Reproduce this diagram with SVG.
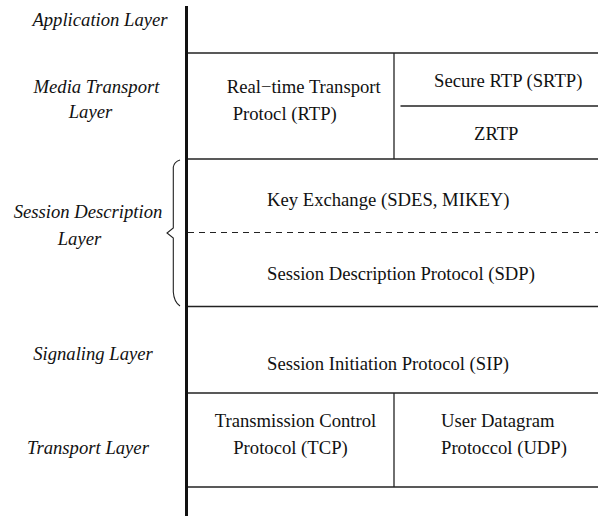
<svg xmlns="http://www.w3.org/2000/svg" width="598" height="516" viewBox="0 0 598 516">
  <style>
    text { font-size: 18.67px; fill: #111; }
    .layer { font-style: italic; text-anchor: middle; }
    .rule { stroke: #222; stroke-width: 1.3; fill: none; }
    .axis { stroke: #111; stroke-width: 3; fill: none; }
    .dash { stroke: #222; stroke-width: 1.2; stroke-dasharray: 6 5; fill: none; }
    .brace { stroke: #222; stroke-width: 1.1; fill: none; }
  </style>
  <rect width="598" height="516" fill="#fff"/>

  <g font-family="Liberation Serif, Times New Roman, serif">
    <!-- layer names on the left -->
    <g id="layer-names">
      <text class="layer" x="100" y="26">Application Layer</text>
      <text class="layer" x="96.5" y="93">Media Transport</text>
      <text class="layer" x="90.5" y="118">Layer</text>
      <text class="layer" x="88" y="218">Session Description</text>
      <text class="layer" x="79.5" y="245">Layer</text>
      <text class="layer" x="93" y="360">Signaling Layer</text>
      <text class="layer" x="88" y="454">Transport Layer</text>
      <path class="brace" d="M180,160 Q174,162 173.3,167 L173.3,228 L167,233 L173.3,238 L173.3,292 Q174,302 180,306"/>
    </g>

    <!-- stack separators and main axis -->
    <g id="rules">
      <line class="rule" x1="187" y1="53" x2="598" y2="53"/>
      <line class="rule" x1="187" y1="159" x2="598" y2="159"/>
      <line class="dash" x1="188" y1="232.5" x2="598" y2="232.5"/>
      <line class="rule" x1="187" y1="306.5" x2="598" y2="306.5"/>
      <line class="rule" x1="187" y1="393" x2="598" y2="393"/>
      <line class="rule" x1="187" y1="487" x2="598" y2="487"/>
      <line class="axis" x1="186.5" y1="6" x2="186.5" y2="516"/>
    </g>

    <g id="rtp">
      <text x="226.7" y="93">Real−time Transport</text>
      <text x="232.7" y="120">Protocl (RTP)</text>
      <line class="rule" x1="394" y1="53" x2="394" y2="159"/>
    </g>

    <g id="srtp">
      <text x="434" y="87">Secure RTP (SRTP)</text>
      <line class="rule" x1="400.5" y1="106" x2="598" y2="106"/>
    </g>

    <g id="zrtp">
      <text x="474" y="140">ZRTP</text>
    </g>

    <g id="key-exchange">
      <text x="267" y="206">Key Exchange (SDES, MIKEY)</text>
    </g>

    <g id="sdp">
      <text x="267" y="280">Session Description Protocol (SDP)</text>
    </g>

    <g id="sip">
      <text x="267" y="370">Session Initiation Protocol (SIP)</text>
    </g>

    <g id="tcp">
      <text x="295.5" y="427" text-anchor="middle">Transmission Control</text>
      <text x="290.5" y="454" text-anchor="middle">Protocol (TCP)</text>
      <line class="rule" x1="394" y1="393" x2="394" y2="487"/>
    </g>

    <g id="udp">
      <text x="441" y="427">User Datagram</text>
      <text x="441" y="454">Protoccol (UDP)</text>
    </g>
  </g>
</svg>
